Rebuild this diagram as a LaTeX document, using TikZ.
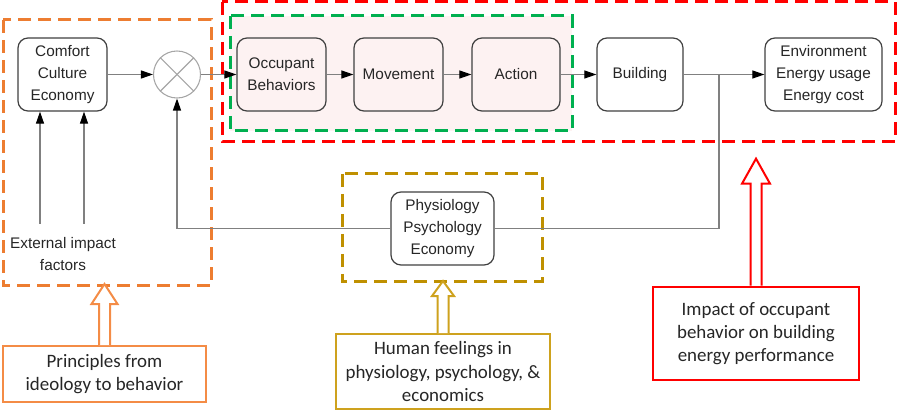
\documentclass[tikz,border=0pt]{standalone}
\usepackage{fontspec}
\setmainfont{Liberation Sans}
\newfontfamily\calib{Carlito}
\usetikzlibrary{arrows.meta,calc}
\definecolor{zoneorange}{RGB}{237,125,49}
\definecolor{noteorange}{RGB}{244,140,70}
\definecolor{zonegold}{RGB}{191,144,0}
\definecolor{notegold}{RGB}{206,162,30}
\definecolor{zonegreen}{RGB}{0,176,80}
\definecolor{zonered}{RGB}{255,0,0}
\definecolor{pinkbg}{RGB}{253,242,242}
\tikzset{
  blk/.style={draw=black!75, line width=0.9pt, rounded corners=7.5pt, minimum height=54.75pt,
    align=center, font=\fontsize{11.5}{16.3}\selectfont, text=black!85, fill=white},
  wire/.style={draw=gray, line width=0.8pt},
  conn/.style={wire, -{Triangle[black,length=9pt,width=6pt]}},
  zone/.style={line width=2.25pt, dash pattern=on 9.75pt off 5.25pt},
  note/.style={draw, line width=1.5pt, align=center, fill=white, text=black!85,
    font=\calib\fontsize{14.2}{17.5}\selectfont},
  hollow/.style={draw=#1, line width=1.5pt, fill=white, line join=miter},
}
\begin{document}
\begin{tikzpicture}[x=0.75pt,y=-0.75pt]
\useasboundingbox (0,0) rectangle (898,416);
% dashed regions
\draw[zone, draw=zoneorange] (3,20) rectangle (211,286);
\draw[zone, draw=zonered] (222,2) rectangle (895,142);
\draw[zone, draw=zonegreen, fill=pinkbg] (230,16) rectangle (572,131);
\draw[zone, draw=zonegold] (342,174) rectangle (542,282);
% blocks
\node[blk, minimum width=66.75pt] (comfort) at (62.5,74.5) {Comfort\\Culture\\Economy};
\node[circle, draw=gray!70, line width=0.8pt, minimum size=35.25pt] (mix) at (177,74.5) {};
\draw[gray!70, line width=0.8pt] (mix.north east) -- (mix.south west);
\draw[gray!70, line width=0.8pt] (mix.north west) -- (mix.south east);
\node[blk, fill=pinkbg, minimum width=66.75pt] (occ) at (281.5,74.5) {Occupant\\Behaviors};
\node[blk, fill=pinkbg, minimum width=66.75pt] (move) at (398.5,74.5) {Movement};
\node[blk, fill=pinkbg, minimum width=66pt] (act) at (516,74.5) {Action};
\node[blk, minimum width=64.5pt] (bldg) at (640,74.5) {Building};
\node[blk, minimum width=87.75pt] (env) at (823.5,74.5) {Environment\\Energy usage\\Energy cost};
\node[blk, minimum width=77.25pt] (physio) at (442.5,228.5) {Physiology\\Psychology\\Economy};
\node[align=center, font=\fontsize{11.5}{16.3}\selectfont, text=black!85] (ext) at (63,254) {External impact\\factors};
% connectors
\coordinate (ext1) at (40,224);
\coordinate (ext2) at (84,224);
\coordinate (tap) at (719,74.5);
\draw[conn] (ext1) -- (ext1 |- comfort.south);
\draw[conn] (ext2) -- (ext2 |- comfort.south);
\draw[conn] (comfort) -- (mix);
\draw[conn] (mix) -- (occ);
\draw[conn] (occ) -- (move);
\draw[conn] (move) -- (act);
\draw[conn] (act) -- (bldg);
\draw[wire] (bldg) -- (tap);
\draw[conn] (tap) -- (env);
\draw[wire] (tap) |- (physio.east);
\draw[conn] (physio.west) -| (mix.south);
% notes
\node[note, draw=noteorange, minimum width=152.25pt, minimum height=42pt] (princ) at (104.5,374) {Principles from\\ideology to behavior};
\node[note, draw=notegold, minimum width=160.5pt, minimum height=56.25pt] (feel) at (443,371.5) {Human feelings in\\physiology, psychology, \&\\economics};
\node[note, draw=zonered, line width=2pt, minimum width=154.5pt, minimum height=69.75pt] (impact) at (756,333.5) {Impact of occupant\\behavior on building\\energy performance};
\draw[hollow=noteorange] ($(princ.north)+(-5.5,0)$) -- ++(0,-41) -- ++(-7.5,0) -- ++(13,-20) -- ++(13,20) -- ++(-7.5,0) -- ++(0,41);
\draw[hollow=notegold] ($(feel.north)+(-5.5,0)$) -- ++(0,-37) -- ++(-5.5,0) -- ++(11,-15) -- ++(11,15) -- ++(-5.5,0) -- ++(0,37);
\draw[hollow=zonered] ($(impact.north)+(-5.5,0)$) -- ++(0,-102) -- ++(-8.5,0) -- ++(14,-25) -- ++(14,25) -- ++(-8.5,0) -- ++(0,102);
\end{tikzpicture}
\end{document}
